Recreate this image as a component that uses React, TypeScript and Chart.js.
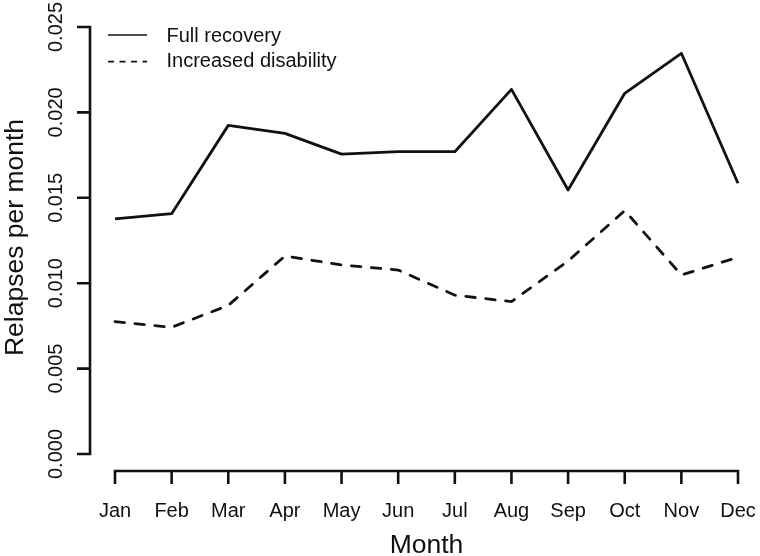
import React, { useEffect, useRef } from "react";
import { Chart, registerables } from "chart.js";

Chart.register(...registerables);

const months = ["Jan", "Feb", "Mar", "Apr", "May", "Jun", "Jul", "Aug", "Sep", "Oct", "Nov", "Dec"];
const fullRecovery = [0.01376, 0.01407, 0.01924, 0.01877, 0.01756, 0.0177, 0.0177, 0.02135, 0.01546, 0.02112, 0.02346, 0.01585];
const increasedDisability = [0.00775, 0.00742, 0.0087, 0.01159, 0.01107, 0.01077, 0.0093, 0.00892, 0.0113, 0.01425, 0.01048, 0.01152];
const yTicks = [0, 0.005, 0.01, 0.015, 0.02, 0.025];
const yTickLabels = ["0.000", "0.005", "0.010", "0.015", "0.020", "0.025"];
const seriesNames = ["Full recovery", "Increased disability"];
const xTitle = "Month";
const yTitle = "Relapses per month";

const FONT = '"Liberation Sans", Arial, Helvetica, sans-serif';
const INK = "#111111";

const rAxesPlugin = {
  id: "rAxes",
  afterDraw(chart: any) {
    const ctx = chart.ctx as CanvasRenderingContext2D;
    const xs = chart.scales.x;
    const ys = chart.scales.y;
    ctx.save();
    ctx.strokeStyle = INK;
    ctx.fillStyle = INK;
    ctx.lineWidth = 2.6;
    ctx.lineCap = "butt";
    ctx.setLineDash([]);

    // Y axis (R style, offset to the left)
    const axX = 90;
    const y0 = ys.getPixelForValue(yTicks[0]);
    const y1 = ys.getPixelForValue(yTicks[yTicks.length - 1]);
    ctx.beginPath();
    ctx.moveTo(axX, y0);
    ctx.lineTo(axX, y1);
    yTicks.forEach((v) => {
      const py = ys.getPixelForValue(v);
      ctx.moveTo(axX + 1.3, py);
      ctx.lineTo(77, py);
    });
    ctx.stroke();
    ctx.font = `20px ${FONT}`;
    ctx.textAlign = "center";
    ctx.textBaseline = "alphabetic";
    yTicks.forEach((v, i) => {
      const py = ys.getPixelForValue(v);
      ctx.save();
      ctx.translate(61.5, py);
      ctx.rotate(-Math.PI / 2);
      ctx.fillText(yTickLabels[i], 0, 0);
      ctx.restore();
    });

    // X axis
    const axY = 471;
    const xa = xs.getPixelForValue(0);
    const xb = xs.getPixelForValue(months.length - 1);
    ctx.beginPath();
    ctx.moveTo(xa, axY);
    ctx.lineTo(xb, axY);
    months.forEach((_, i) => {
      const px = xs.getPixelForValue(i);
      ctx.moveTo(px, axY - 1.3);
      ctx.lineTo(px, 484);
    });
    ctx.stroke();
    months.forEach((m, i) => {
      const px = xs.getPixelForValue(i);
      ctx.fillText(m, px, 517);
    });

    // Titles
    ctx.font = `26.5px ${FONT}`;
    ctx.fillText(xTitle, (xa + xb) / 2, 553);
    ctx.save();
    ctx.translate(23, (y0 + y1) / 2 - 3);
    ctx.rotate(-Math.PI / 2);
    ctx.fillText(yTitle, 0, 0);
    ctx.restore();

    // Legend
    ctx.lineWidth = 1.7;
    ctx.beginPath();
    ctx.moveTo(108, 35);
    ctx.lineTo(147, 35);
    ctx.stroke();
    ctx.setLineDash([6, 5.5]);
    ctx.beginPath();
    ctx.moveTo(108, 61.7);
    ctx.lineTo(147, 61.7);
    ctx.stroke();
    ctx.setLineDash([]);
    ctx.font = `20px ${FONT}`;
    ctx.textAlign = "left";
    ctx.fillText(seriesNames[0], 166.5, 42);
    ctx.fillText(seriesNames[1], 166.5, 67);
    ctx.restore();
  },
};

export default function App() {
  const ref = useRef<HTMLCanvasElement>(null);
  useEffect(() => {
    if (!ref.current) return;
    const chart = new Chart(ref.current, {
      type: "line",
      data: {
        labels: months,
        datasets: [
          {
            label: seriesNames[0],
            data: fullRecovery,
            borderColor: INK,
            borderWidth: 2.8,
            pointRadius: 0,
            tension: 0,
            fill: false,
            borderJoinStyle: "round",
            clip: false as any,
          },
          {
            label: seriesNames[1],
            data: increasedDisability,
            borderColor: INK,
            borderWidth: 2.8,
            borderDash: [9.5, 10.5],
            borderCapStyle: "round",
            pointRadius: 0,
            tension: 0,
            fill: false,
            clip: false as any,
          },
        ],
      },
      options: {
        responsive: false,
        animation: false,
        events: [],
        layout: { padding: { left: 115, right: 22, top: 27, bottom: 102 } },
        plugins: { legend: { display: false }, tooltip: { enabled: false }, title: { display: false } },
        scales: {
          x: { type: "category", display: false, offset: false },
          y: { type: "linear", display: false, min: 0, max: 0.025 },
        },
      },
      plugins: [rAxesPlugin],
    });
    return () => chart.destroy();
  }, []);
  return (
    <div style={{ position: "fixed", left: 0, top: 0, width: 760, height: 556, background: "#fff" }}>
      <canvas ref={ref} width={760} height={556} style={{ display: "block", width: 760, height: 556 }} />
    </div>
  );
}
